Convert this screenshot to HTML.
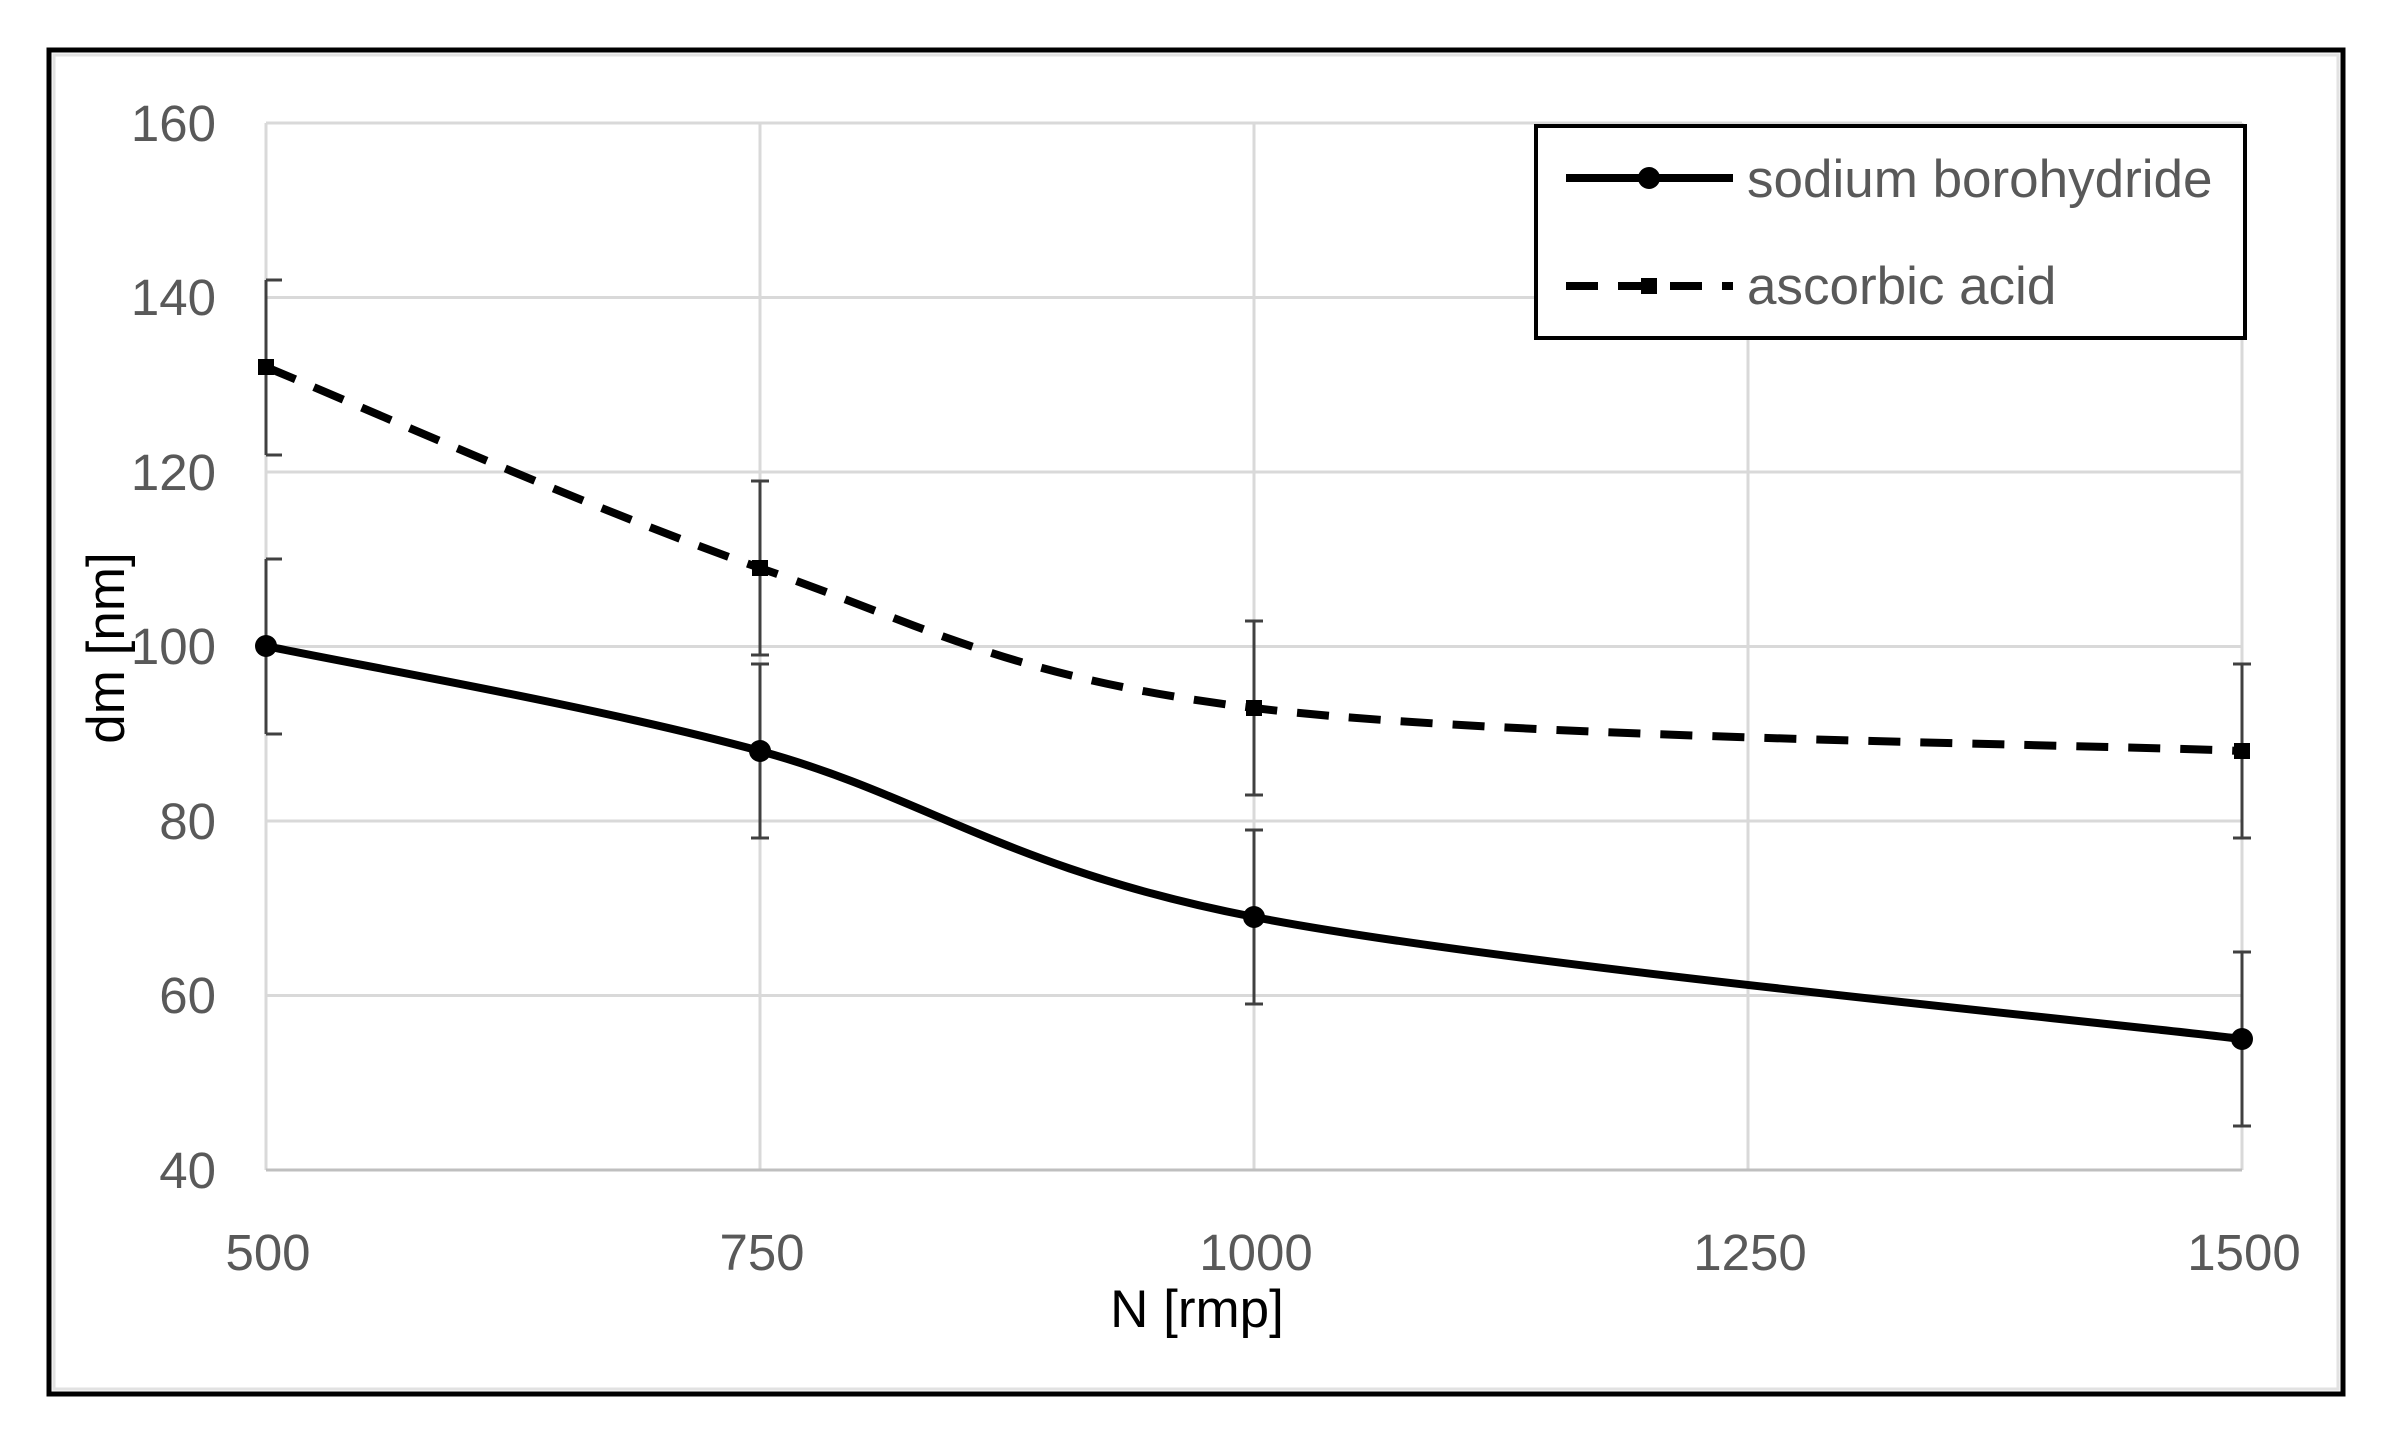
<!DOCTYPE html>
<html><head><style>
html,body{margin:0;padding:0;background:#fff;}
svg{display:block;}
text{font-family:"Liberation Sans",sans-serif;}
</style></head><body>
<svg width="2392" height="1441" viewBox="0 0 2392 1441">
<rect x="0" y="0" width="2392" height="1441" fill="#fff"/>
<rect x="49" y="50" width="2294" height="1344" fill="none" stroke="#000" stroke-width="5"/>
<rect x="54" y="55" width="2284" height="1334" fill="none" stroke="#e2e2e2" stroke-width="3"/>
<g stroke="#d9d9d9" stroke-width="3">
<line x1="266" y1="123" x2="2242" y2="123"/>
<line x1="266" y1="297.5" x2="2242" y2="297.5"/>
<line x1="266" y1="472" x2="2242" y2="472"/>
<line x1="266" y1="646.5" x2="2242" y2="646.5"/>
<line x1="266" y1="821" x2="2242" y2="821"/>
<line x1="266" y1="995.5" x2="2242" y2="995.5"/>
<line x1="266" y1="123" x2="266" y2="1170"/>
<line x1="760" y1="123" x2="760" y2="1170"/>
<line x1="1254" y1="123" x2="1254" y2="1170"/>
<line x1="1748" y1="123" x2="1748" y2="1170"/>
<line x1="2242" y1="123" x2="2242" y2="1170"/>
</g>
<line x1="266" y1="1170" x2="2242" y2="1170" stroke="#bfbfbf" stroke-width="3"/>
<g font-size="51" fill="#595959" text-anchor="end">
<text x="216" y="141">160</text>
<text x="216" y="315">140</text>
<text x="216" y="490">120</text>
<text x="216" y="664">100</text>
<text x="216" y="839">80</text>
<text x="216" y="1013">60</text>
<text x="216" y="1188">40</text>
</g>
<g font-size="51" fill="#595959" text-anchor="middle">
<text x="268" y="1270">500</text>
<text x="762" y="1270">750</text>
<text x="1256" y="1270">1000</text>
<text x="1750" y="1270">1250</text>
<text x="2244" y="1270">1500</text>
</g>
<text x="1197" y="1327" font-size="53" fill="#000" text-anchor="middle">N [rmp]</text>
<text transform="translate(124,648) rotate(-90)" font-size="53" fill="#000" text-anchor="middle">dm [nm]</text>
<g stroke="#404040" stroke-width="3" fill="none">
<path d="M266 280 V455 M266 280 h16 M266 455 h16"/>
<path d="M760 481 V655 M751 481 h18 M751 655 h18"/>
<path d="M1254 621 V795 M1245 621 h18 M1245 795 h18"/>
<path d="M2242 664 V838 M2233 664 h18 M2233 838 h18"/>
<path d="M266 559 V734 M266 559 h16 M266 734 h16"/>
<path d="M760 664 V838 M751 664 h18 M751 838 h18"/>
<path d="M1254 830 V1004 M1245 830 h18 M1245 1004 h18"/>
<path d="M2242 952 V1126 M2233 952 h18 M2233 1126 h18"/>
</g>
<path d="M266 646 C348 663.5 595 706 760 751 C925 796 1007 869 1254 917 C1501 965 2077 1019 2242 1039" fill="none" stroke="#000" stroke-width="8"/>
<path d="M266 367 C348 400.5 595 511 760 568 C925 625 1007 677.5 1254 708 C1501 738.5 2077 744 2242 751" fill="none" stroke="#000" stroke-width="8" stroke-dasharray="32 20"/>
<g fill="#000">
<circle cx="266" cy="646" r="11"/><circle cx="760" cy="751" r="11"/><circle cx="1254" cy="917" r="11"/><circle cx="2242" cy="1039" r="11"/>
<rect x="258" y="359" width="16" height="16"/><rect x="752" y="560" width="16" height="16"/><rect x="1246" y="700" width="16" height="16"/><rect x="2234" y="743" width="16" height="16"/>
</g>
<rect x="1536" y="126" width="709" height="212" fill="#fff" stroke="#000" stroke-width="4"/>
<line x1="1566" y1="178" x2="1733" y2="178" stroke="#000" stroke-width="8"/>
<circle cx="1649" cy="178" r="11" fill="#000"/>
<line x1="1566" y1="286" x2="1733" y2="286" stroke="#000" stroke-width="8" stroke-dasharray="32 20"/>
<rect x="1641" y="278" width="16" height="16" fill="#000"/>
<g font-size="53" fill="#595959">
<text x="1747" y="197">sodium borohydride</text>
<text x="1747" y="304">ascorbic acid</text>
</g>
</svg>
</body></html>
